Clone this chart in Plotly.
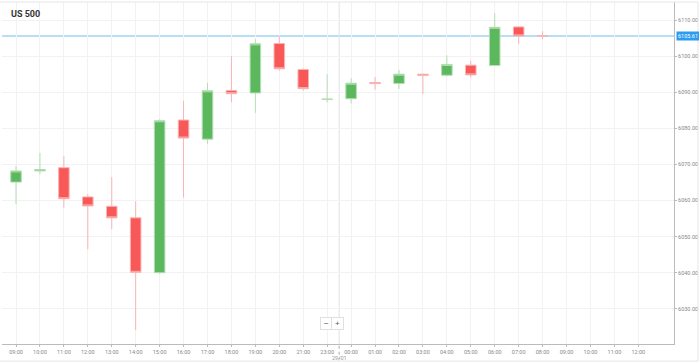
import plotly.graph_objects as go

hours = ["09:00", "10:00", "11:00", "12:00", "13:00", "14:00", "15:00", "16:00",
         "17:00", "18:00", "19:00", "20:00", "21:00", "23:00", "00:00", "01:00",
         "02:00", "03:00", "04:00", "05:00", "06:00", "07:00", "08:00",
         "09:00", "10:00", "11:00", "12:00"]

open_ = [6065.1, 6068.2, 6069.1, 6061.0, 6058.4, 6055.2, 6040.0, 6082.3, 6077.0,
         6090.5, 6089.8, 6103.5, 6096.3, 6088.0, 6088.2, 6092.7, 6092.4, 6095.0,
         6094.7, 6097.5, 6097.4, 6108.1, 6105.7]
high = [6069.6, 6073.2, 6072.3, 6061.8, 6066.5, 6059.8, 6082.5, 6087.6, 6092.6,
        6100.0, 6104.7, 6105.6, 6096.6, 6095.0, 6093.9, 6094.2, 6096.2, 6095.1,
        6100.2, 6098.7, 6111.9, 6108.3, 6106.9]
low = [6059.0, 6067.3, 6058.0, 6046.5, 6052.1, 6024.1, 6039.7, 6060.8, 6075.7,
       6087.2, 6084.3, 6096.0, 6090.4, 6087.2, 6086.9, 6090.7, 6090.9, 6089.5,
       6094.3, 6094.1, 6097.3, 6103.4, 6104.7]
close = [6068.2, 6068.6, 6060.5, 6058.5, 6055.2, 6040.1, 6082.1, 6077.3, 6090.4,
         6089.6, 6103.4, 6096.5, 6091.0, 6088.1, 6092.5, 6092.4, 6095.0, 6094.7,
         6097.7, 6094.8, 6108.0, 6105.6, 6105.61]

y_ticks = [6030, 6040, 6050, 6060, 6070, 6080, 6090, 6100, 6110]
current_price = 6105.61
title = "US 500"
date_label = "29/01"

x_idx = list(range(len(open_)))
tick_pos = list(range(len(hours)))

fig = go.Figure()
fig.add_trace(go.Candlestick(
    x=x_idx, open=open_, high=high, low=low, close=close,
    increasing=dict(fillcolor="#5cb85c", line=dict(color="#b5deb5", width=1)),
    decreasing=dict(fillcolor="#f95858", line=dict(color="#f9b4b4", width=1)),
    whiskerwidth=0, showlegend=False, hoverinfo="skip",
))

fig.add_hline(y=current_price, line=dict(color="#9fd4f2", width=1.5), layer="below")

# day separator
fig.add_shape(type="line", x0=13.5, x1=13.5, y0=0, y1=1, xref="x", yref="paper",
              line=dict(color="#e2e2e2", width=1), layer="below")
fig.add_shape(type="line", x0=13.5, x1=13.5, y0=-0.005, y1=-0.045, xref="x", yref="paper",
              line=dict(color="#aaaaaa", width=1, dash="dot"))

# outer frame
fig.add_shape(type="line", xref="paper", yref="paper", x0=-0.01, x1=1.036, y0=1, y1=1,
              line=dict(color="#e6e6e6", width=1))
fig.add_shape(type="line", xref="paper", yref="paper", x0=1.0357, x1=1.0357, y0=1, y1=-0.05,
              line=dict(color="#e6e6e6", width=1))
fig.add_shape(type="line", xref="paper", yref="paper", x0=-0.01, x1=1.036, y0=-0.05, y1=-0.05,
              line=dict(color="#e6e6e6", width=1))

fig.add_annotation(text="<b>" + title + "</b>", xref="paper", yref="paper", x=0.011, y=0.985,
                   xanchor="left", yanchor="top", showarrow=False,
                   font=dict(family="Roboto, Arial", size=9, color="#333333"))

fig.add_annotation(text=f"{current_price:.2f}", xref="paper", yref="y", x=1.003, y=current_price,
                   xanchor="left", yanchor="middle", showarrow=False,
                   bgcolor="#2c9cf0", borderpad=1,
                   font=dict(family="Roboto, Arial", size=5.5, color="white"))

fig.add_annotation(text=date_label, xref="x", yref="paper", x=13.5, y=-0.026,
                   xanchor="center", yanchor="top", showarrow=False,
                   font=dict(family="Roboto, Arial", size=5.5, color="#999999"))

# zoom buttons
fig.add_annotation(text="−", xref="x", yref="paper", x=12.97, y=0.06, showarrow=False,
                   xanchor="center", yanchor="middle",
                   bgcolor="white", bordercolor="#e0e0e0", borderwidth=1, width=9, height=9,
                   font=dict(family="Arial", size=8, color="#555555"))
fig.add_annotation(text="+", xref="x", yref="paper", x=13.45, y=0.06, showarrow=False,
                   xanchor="center", yanchor="middle",
                   bgcolor="white", bordercolor="#e0e0e0", borderwidth=1, width=9, height=9,
                   font=dict(family="Arial", size=8, color="#555555"))

fig.update_layout(
    width=699, height=363,
    margin=dict(l=2, r=25, t=2, b=19),
    paper_bgcolor="white", plot_bgcolor="white",
    boxgap=0.37,
    xaxis=dict(
        range=[-0.585, 27.49], rangeslider=dict(visible=False),
        tickmode="array", tickvals=tick_pos, ticktext=hours,
        showgrid=True, gridcolor="#f2f2f2", gridwidth=1,
        showline=True, linecolor="#bbbbbb", linewidth=1,
        ticks="outside", ticklen=2, tickcolor="#bbbbbb",
        tickfont=dict(family="Roboto, Arial", size=5.5, color="#888888"),
        zeroline=False, fixedrange=True,
    ),
    yaxis=dict(
        side="right", range=[6020.25, 6115],
        tickmode="array", tickvals=y_ticks, ticktext=[f"{v:.2f}" for v in y_ticks],
        showgrid=True, gridcolor="#f2f2f2", gridwidth=1,
        showline=True, linecolor="#bbbbbb", linewidth=1,
        ticks="outside", ticklen=2, tickcolor="#bbbbbb",
        tickfont=dict(family="Roboto, Arial", size=5.5, color="#888888"),
        zeroline=False, fixedrange=True,
    ),
)

fig.write_html("out.html", config={"displayModeBar": False},
               post_script="document.body.style.margin='0';document.body.style.overflow='hidden';")
